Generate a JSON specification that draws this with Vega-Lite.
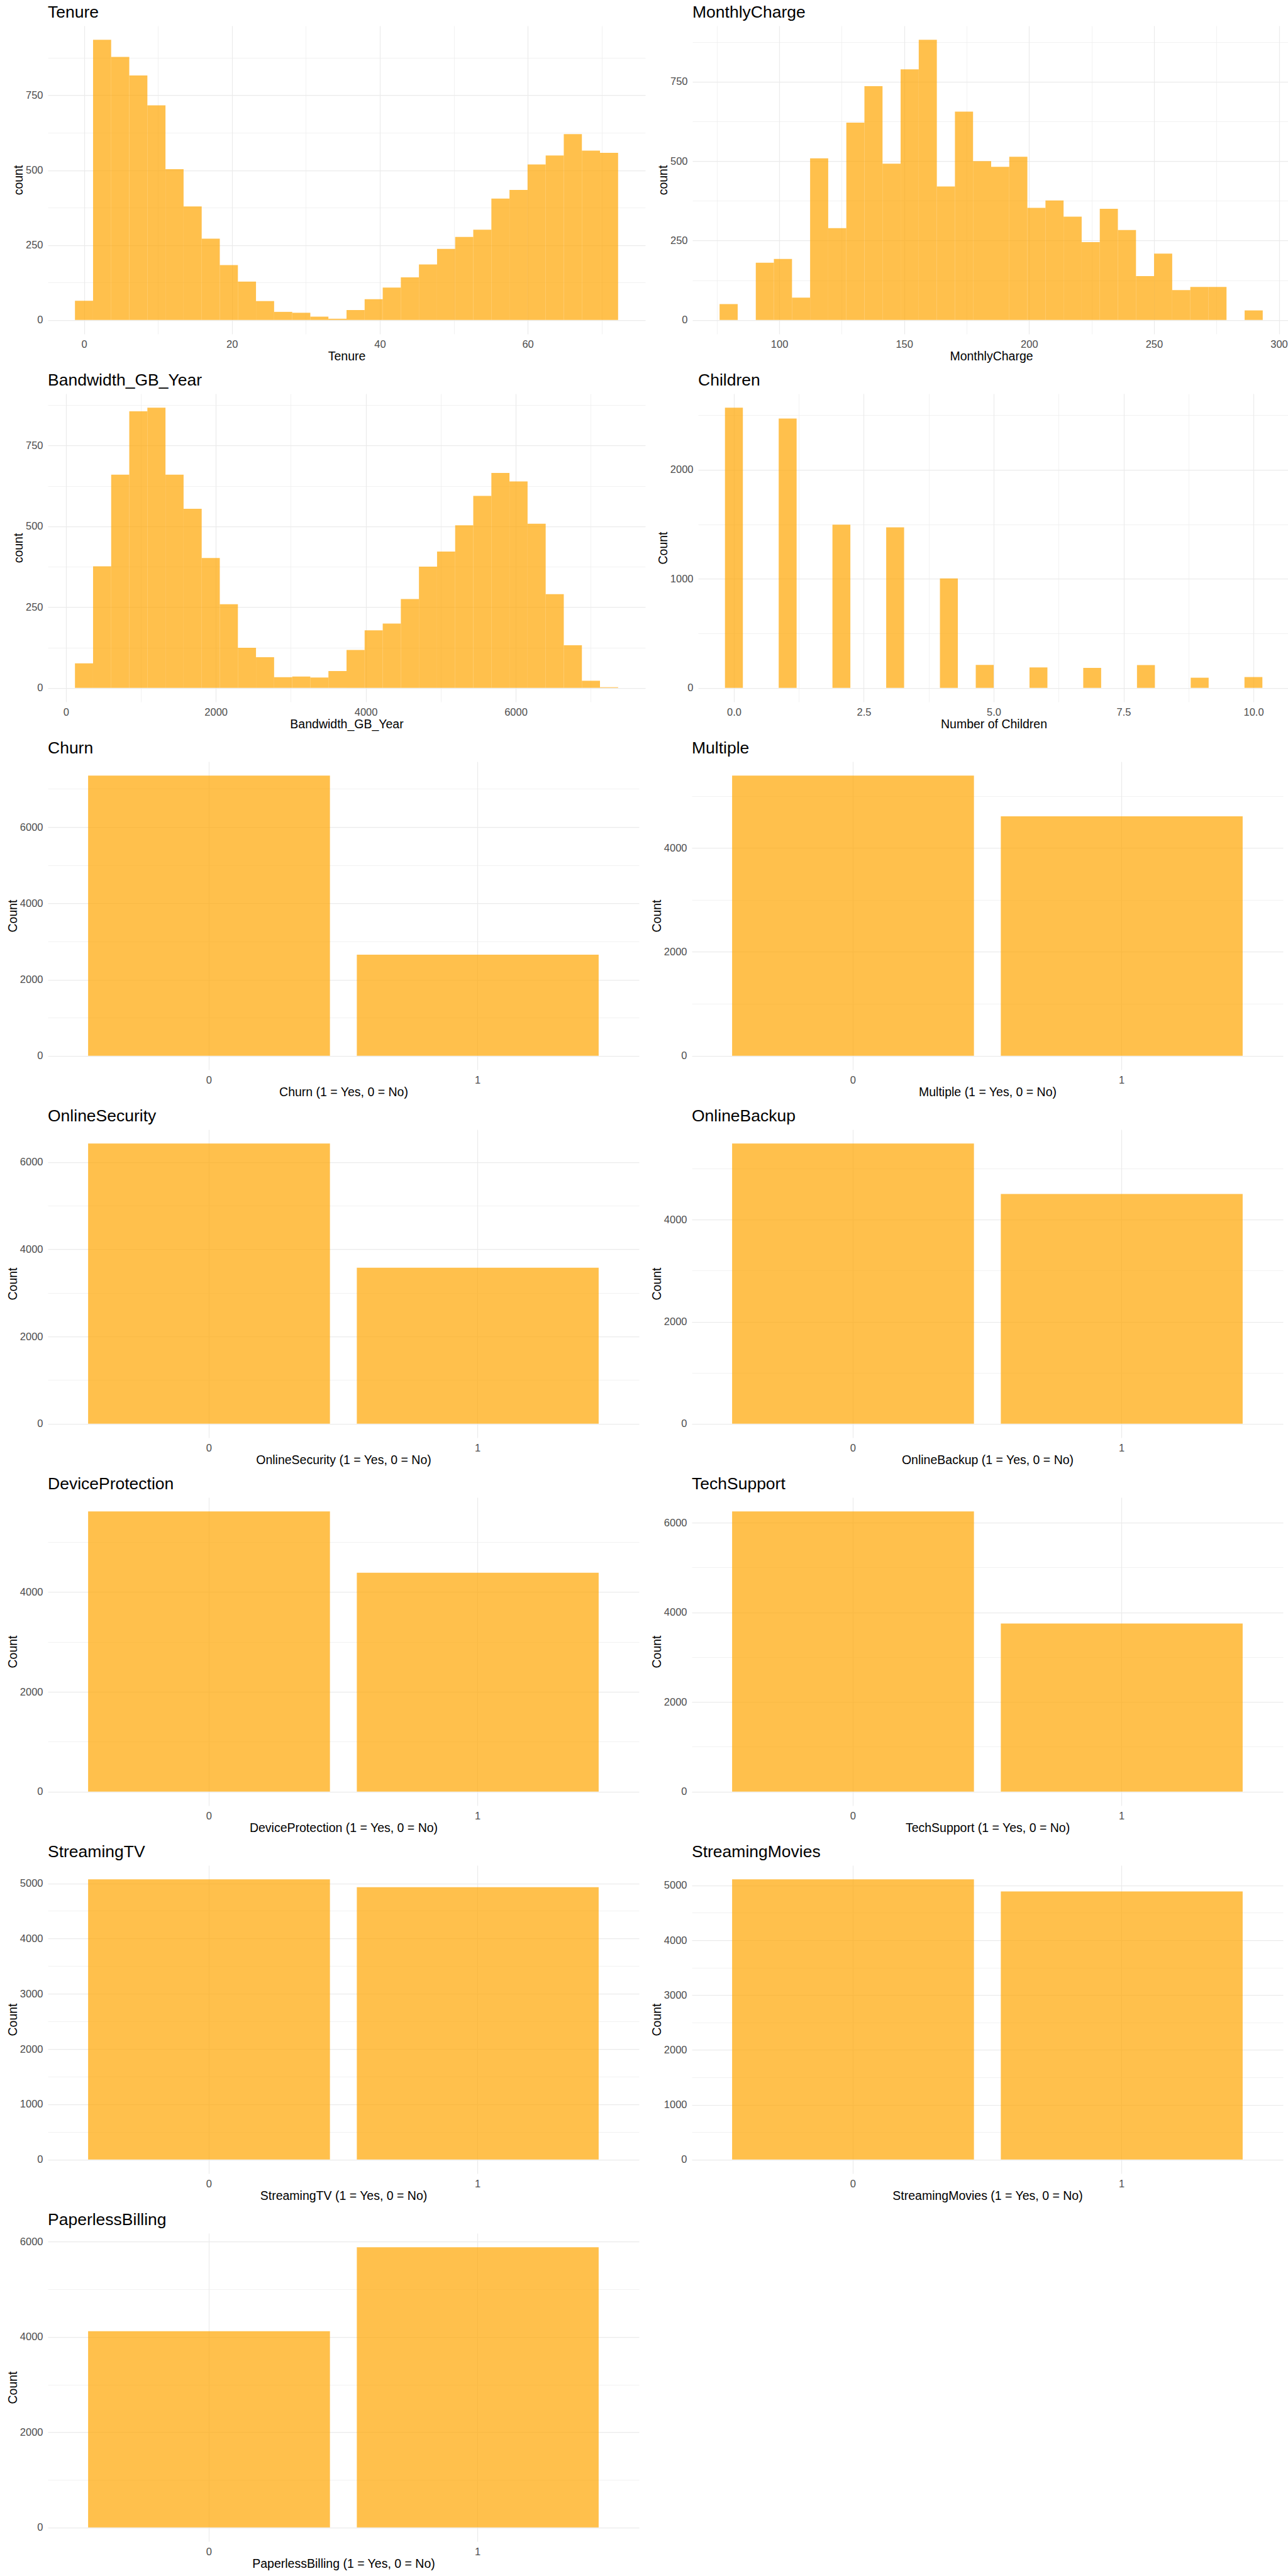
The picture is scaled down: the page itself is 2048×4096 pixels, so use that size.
{
  "$schema": "https://vega.github.io/schema/vega-lite/v6.json",
  "background": "white",
  "padding": {"left": 10, "top": 7, "right": 0, "bottom": 0},
  "spacing": 15,
  "datasets": {
    "tenure": [
      {"s":-1.224,"e":1.224,"n":64},{"s":1.224,"e":3.672,"n":935},{"s":3.672,"e":6.121,"n":878},{"s":6.121,"e":8.569,"n":816},
      {"s":8.569,"e":11.017,"n":716},{"s":11.017,"e":13.465,"n":503},{"s":13.465,"e":15.914,"n":379},{"s":15.914,"e":18.362,"n":271},
      {"s":18.362,"e":20.810,"n":183},{"s":20.810,"e":23.258,"n":128},{"s":23.258,"e":25.707,"n":63},{"s":25.707,"e":28.155,"n":27},
      {"s":28.155,"e":30.603,"n":24},{"s":30.603,"e":33.051,"n":11},{"s":33.051,"e":35.500,"n":4},{"s":35.500,"e":37.948,"n":33},
      {"s":37.948,"e":40.396,"n":69},{"s":40.396,"e":42.844,"n":108},{"s":42.844,"e":45.293,"n":142},{"s":45.293,"e":47.741,"n":185},
      {"s":47.741,"e":50.189,"n":237},{"s":50.189,"e":52.637,"n":277},{"s":52.637,"e":55.086,"n":301},{"s":55.086,"e":57.534,"n":405},
      {"s":57.534,"e":59.982,"n":434},{"s":59.982,"e":62.430,"n":519},{"s":62.430,"e":64.878,"n":549},{"s":64.878,"e":67.327,"n":620},
      {"s":67.327,"e":69.775,"n":565},{"s":69.775,"e":72.223,"n":558}
    ],
    "monthly": [
      {"s":76.100,"e":83.348,"n":50},{"s":90.595,"e":97.843,"n":180},{"s":97.843,"e":105.091,"n":192},
      {"s":105.091,"e":112.338,"n":70},{"s":112.338,"e":119.586,"n":509},{"s":119.586,"e":126.833,"n":289},{"s":126.833,"e":134.081,"n":621},
      {"s":134.081,"e":141.329,"n":736},{"s":141.329,"e":148.576,"n":492},{"s":148.576,"e":155.824,"n":789},{"s":155.824,"e":163.072,"n":882},
      {"s":163.072,"e":170.319,"n":420},{"s":170.319,"e":177.567,"n":656},{"s":177.567,"e":184.815,"n":500},{"s":184.815,"e":192.062,"n":482},
      {"s":192.062,"e":199.310,"n":514},{"s":199.310,"e":206.558,"n":353},{"s":206.558,"e":213.805,"n":376},{"s":213.805,"e":221.053,"n":325},
      {"s":221.053,"e":228.300,"n":245},{"s":228.300,"e":235.548,"n":350},{"s":235.548,"e":242.796,"n":283},{"s":242.796,"e":250.043,"n":138},
      {"s":250.043,"e":257.291,"n":209},{"s":257.291,"e":264.539,"n":94},{"s":264.539,"e":271.786,"n":104},{"s":271.786,"e":279.034,"n":104},
      {"s":286.282,"e":293.529,"n":30}
    ],
    "bandwidth": [
      {"s":120.75,"e":362.25,"n":76},{"s":362.25,"e":603.75,"n":376},{"s":603.75,"e":845.25,"n":660},{"s":845.25,"e":1086.75,"n":856},
      {"s":1086.75,"e":1328.25,"n":867},{"s":1328.25,"e":1569.75,"n":660},{"s":1569.75,"e":1811.25,"n":554},{"s":1811.25,"e":2052.75,"n":402},
      {"s":2052.75,"e":2294.25,"n":259},{"s":2294.25,"e":2535.75,"n":124},{"s":2535.75,"e":2777.25,"n":95},{"s":2777.25,"e":3018.75,"n":33},
      {"s":3018.75,"e":3260.25,"n":35},{"s":3260.25,"e":3501.75,"n":32},{"s":3501.75,"e":3743.25,"n":52},{"s":3743.25,"e":3984.75,"n":117},
      {"s":3984.75,"e":4226.25,"n":178},{"s":4226.25,"e":4467.75,"n":199},{"s":4467.75,"e":4709.25,"n":275},{"s":4709.25,"e":4950.75,"n":375},
      {"s":4950.75,"e":5192.25,"n":422},{"s":5192.25,"e":5433.75,"n":503},{"s":5433.75,"e":5675.25,"n":594},{"s":5675.25,"e":5916.75,"n":665},
      {"s":5916.75,"e":6158.25,"n":639},{"s":6158.25,"e":6399.75,"n":508},{"s":6399.75,"e":6641.25,"n":290},{"s":6641.25,"e":6882.75,"n":132},
      {"s":6882.75,"e":7124.25,"n":22},{"s":7124.25,"e":7365.75,"n":2}
    ],
    "children": [
      {"s":-0.1724,"e":0.1724,"n":2569},{"s":0.8621,"e":1.2069,"n":2470},{"s":1.8966,"e":2.2414,"n":1496},{"s":2.9310,"e":3.2759,"n":1472},
      {"s":3.9655,"e":4.3103,"n":1004},{"s":4.6552,"e":5.0000,"n":211},{"s":5.6897,"e":6.0345,"n":187},{"s":6.7241,"e":7.0690,"n":183},
      {"s":7.7586,"e":8.1034,"n":209},{"s":8.7931,"e":9.1379,"n":93},{"s":9.8276,"e":10.1724,"n":99}
    ],
    "churn": [{"v":"0","n":7350},{"v":"1","n":2650}],
    "multiple": [{"v":"0","n":5392},{"v":"1","n":4608}],
    "onlinesecurity": [{"v":"0","n":6424},{"v":"1","n":3576}],
    "onlinebackup": [{"v":"0","n":5494},{"v":"1","n":4506}],
    "deviceprotection": [{"v":"0","n":5614},{"v":"1","n":4386}],
    "techsupport": [{"v":"0","n":6250},{"v":"1","n":3750}],
    "streamingtv": [{"v":"0","n":5071},{"v":"1","n":4929}],
    "streamingmovies": [{"v":"0","n":5110},{"v":"1","n":4890}],
    "paperless": [{"v":"0","n":4118},{"v":"1","n":5882}]
  },
  "vconcat": [
    {
      "spacing": 18,
      "hconcat": [
        {
          "title": "Tenure", "width": 950, "height": 490,
          "data": {"name": "tenure"}, "mark": "rect",
          "encoding": {
            "x": {"field": "s", "type": "quantitative", "scale": {"domain": [-4.8965, 75.8955], "nice": false, "zero": false},
              "axis": {"title": "Tenure", "values": [0,10,20,30,40,50,60,70], "format": "d",
                "labelExpr": "datum.value % 20 === 0 ? datum.label : ''",
                "gridWidth": {"condition": {"test": "datum.value % 20 === 0", "value": 1.25}, "value": 0.65}}},
            "x2": {"field": "e"},
            "y": {"field": "n", "type": "quantitative", "scale": {"domain": [-46.75, 981.75], "nice": false, "zero": false},
              "axis": {"title": "count", "values": [0,125,250,375,500,625,750,875], "format": "d",
                "labelExpr": "datum.value % 250 === 0 ? datum.label : ''",
                "gridWidth": {"condition": {"test": "datum.value % 250 === 0", "value": 1.25}, "value": 0.65}}},
            "y2": {"datum": 0}
          }
        },
        {
          "title": "MonthlyCharge", "width": 950, "height": 490,
          "data": {"name": "monthly"}, "mark": "rect",
          "encoding": {
            "x": {"field": "s", "type": "quantitative", "scale": {"domain": [65.229, 304.401], "nice": false, "zero": false},
              "axis": {"title": "MonthlyCharge", "values": [75,100,125,150,175,200,225,250,275,300], "format": "d",
                "labelExpr": "datum.value % 50 === 0 ? datum.label : ''",
                "gridWidth": {"condition": {"test": "datum.value % 50 === 0", "value": 1.25}, "value": 0.65}}},
            "x2": {"field": "e"},
            "y": {"field": "n", "type": "quantitative", "scale": {"domain": [-44.1, 926.1], "nice": false, "zero": false},
              "axis": {"title": "count", "values": [0,125,250,375,500,625,750,875], "format": "d",
                "labelExpr": "datum.value % 250 === 0 ? datum.label : ''",
                "gridWidth": {"condition": {"test": "datum.value % 250 === 0", "value": 1.25}, "value": 0.65}}},
            "y2": {"datum": 0}
          }
        }
      ]
    },
    {
      "spacing": 18,
      "hconcat": [
        {
          "title": "Bandwidth_GB_Year", "width": 950, "height": 490,
          "data": {"name": "bandwidth"}, "mark": "rect",
          "encoding": {
            "x": {"field": "s", "type": "quantitative", "scale": {"domain": [-241.5, 7728], "nice": false, "zero": false},
              "axis": {"title": "Bandwidth_GB_Year", "values": [0,1000,2000,3000,4000,5000,6000,7000], "format": "d",
                "labelExpr": "datum.value % 2000 === 0 ? datum.label : ''",
                "gridWidth": {"condition": {"test": "datum.value % 2000 === 0", "value": 1.25}, "value": 0.65}}},
            "x2": {"field": "e"},
            "y": {"field": "n", "type": "quantitative", "scale": {"domain": [-43.35, 910.35], "nice": false, "zero": false},
              "axis": {"title": "count", "values": [0,125,250,375,500,625,750,875], "format": "d",
                "labelExpr": "datum.value % 250 === 0 ? datum.label : ''",
                "gridWidth": {"condition": {"test": "datum.value % 250 === 0", "value": 1.25}, "value": 0.65}}},
            "y2": {"datum": 0}
          }
        },
        {
          "title": "Children", "width": 940, "height": 490,
          "data": {"name": "children"}, "mark": "rect",
          "encoding": {
            "x": {"field": "s", "type": "quantitative", "scale": {"domain": [-0.6897, 10.6897], "nice": false, "zero": false},
              "axis": {"title": "Number of Children", "values": [0,1.25,2.5,3.75,5,6.25,7.5,8.75,10], "format": ".1f",
                "labelExpr": "datum.value % 2.5 === 0 ? datum.label : ''",
                "gridWidth": {"condition": {"test": "datum.value % 2.5 === 0", "value": 1.25}, "value": 0.65}}},
            "x2": {"field": "e"},
            "y": {"field": "n", "type": "quantitative", "scale": {"domain": [-128.45, 2697.45], "nice": false, "zero": false},
              "axis": {"title": "Count", "values": [0,500,1000,1500,2000,2500], "format": "d",
                "labelExpr": "datum.value % 1000 === 0 ? datum.label : ''",
                "gridWidth": {"condition": {"test": "datum.value % 1000 === 0", "value": 1.25}, "value": 0.65}}},
            "y2": {"datum": 0}
          }
        }
      ]
    },
    {
      "spacing": 18,
      "hconcat": [
        {
          "title": "Churn", "width": 940, "height": 490,
          "data": {"name": "churn"}, "mark": "bar",
          "encoding": {
            "x": {"field": "v", "type": "nominal", "scale": {"paddingInner": 0.1, "paddingOuter": 0.15},
              "axis": {"title": "Churn (1 = Yes, 0 = No)", "labelAngle": 0, "grid": true, "bandPosition": 0.5, "gridWidth": 1.25}},
            "y": {"field": "n", "type": "quantitative", "scale": {"domain": [-367.5, 7717.5], "nice": false, "zero": false},
              "axis": {"title": "Count", "values": [0,1000,2000,3000,4000,5000,6000,7000], "format": "d",
                "labelExpr": "datum.value % 2000 === 0 ? datum.label : ''",
                "gridWidth": {"condition": {"test": "datum.value % 2000 === 0", "value": 1.25}, "value": 0.65}}}
          }
        },
        {
          "title": "Multiple", "width": 940, "height": 490,
          "data": {"name": "multiple"}, "mark": "bar",
          "encoding": {
            "x": {"field": "v", "type": "nominal", "scale": {"paddingInner": 0.1, "paddingOuter": 0.15},
              "axis": {"title": "Multiple (1 = Yes, 0 = No)", "labelAngle": 0, "grid": true, "bandPosition": 0.5, "gridWidth": 1.25}},
            "y": {"field": "n", "type": "quantitative", "scale": {"domain": [-269.6, 5661.6], "nice": false, "zero": false},
              "axis": {"title": "Count", "values": [0,1000,2000,3000,4000,5000], "format": "d",
                "labelExpr": "datum.value % 2000 === 0 ? datum.label : ''",
                "gridWidth": {"condition": {"test": "datum.value % 2000 === 0", "value": 1.25}, "value": 0.65}}}
          }
        }
      ]
    },
    {
      "spacing": 18,
      "hconcat": [
        {
          "title": "OnlineSecurity", "width": 940, "height": 490,
          "data": {"name": "onlinesecurity"}, "mark": "bar",
          "encoding": {
            "x": {"field": "v", "type": "nominal", "scale": {"paddingInner": 0.1, "paddingOuter": 0.15},
              "axis": {"title": "OnlineSecurity (1 = Yes, 0 = No)", "labelAngle": 0, "grid": true, "bandPosition": 0.5, "gridWidth": 1.25}},
            "y": {"field": "n", "type": "quantitative", "scale": {"domain": [-321.2, 6745.2], "nice": false, "zero": false},
              "axis": {"title": "Count", "values": [0,1000,2000,3000,4000,5000,6000], "format": "d",
                "labelExpr": "datum.value % 2000 === 0 ? datum.label : ''",
                "gridWidth": {"condition": {"test": "datum.value % 2000 === 0", "value": 1.25}, "value": 0.65}}}
          }
        },
        {
          "title": "OnlineBackup", "width": 940, "height": 490,
          "data": {"name": "onlinebackup"}, "mark": "bar",
          "encoding": {
            "x": {"field": "v", "type": "nominal", "scale": {"paddingInner": 0.1, "paddingOuter": 0.15},
              "axis": {"title": "OnlineBackup (1 = Yes, 0 = No)", "labelAngle": 0, "grid": true, "bandPosition": 0.5, "gridWidth": 1.25}},
            "y": {"field": "n", "type": "quantitative", "scale": {"domain": [-274.7, 5768.7], "nice": false, "zero": false},
              "axis": {"title": "Count", "values": [0,1000,2000,3000,4000,5000], "format": "d",
                "labelExpr": "datum.value % 2000 === 0 ? datum.label : ''",
                "gridWidth": {"condition": {"test": "datum.value % 2000 === 0", "value": 1.25}, "value": 0.65}}}
          }
        }
      ]
    },
    {
      "spacing": 18,
      "hconcat": [
        {
          "title": "DeviceProtection", "width": 940, "height": 490,
          "data": {"name": "deviceprotection"}, "mark": "bar",
          "encoding": {
            "x": {"field": "v", "type": "nominal", "scale": {"paddingInner": 0.1, "paddingOuter": 0.15},
              "axis": {"title": "DeviceProtection (1 = Yes, 0 = No)", "labelAngle": 0, "grid": true, "bandPosition": 0.5, "gridWidth": 1.25}},
            "y": {"field": "n", "type": "quantitative", "scale": {"domain": [-280.7, 5894.7], "nice": false, "zero": false},
              "axis": {"title": "Count", "values": [0,1000,2000,3000,4000,5000], "format": "d",
                "labelExpr": "datum.value % 2000 === 0 ? datum.label : ''",
                "gridWidth": {"condition": {"test": "datum.value % 2000 === 0", "value": 1.25}, "value": 0.65}}}
          }
        },
        {
          "title": "TechSupport", "width": 940, "height": 490,
          "data": {"name": "techsupport"}, "mark": "bar",
          "encoding": {
            "x": {"field": "v", "type": "nominal", "scale": {"paddingInner": 0.1, "paddingOuter": 0.15},
              "axis": {"title": "TechSupport (1 = Yes, 0 = No)", "labelAngle": 0, "grid": true, "bandPosition": 0.5, "gridWidth": 1.25}},
            "y": {"field": "n", "type": "quantitative", "scale": {"domain": [-312.5, 6562.5], "nice": false, "zero": false},
              "axis": {"title": "Count", "values": [0,1000,2000,3000,4000,5000,6000], "format": "d",
                "labelExpr": "datum.value % 2000 === 0 ? datum.label : ''",
                "gridWidth": {"condition": {"test": "datum.value % 2000 === 0", "value": 1.25}, "value": 0.65}}}
          }
        }
      ]
    },
    {
      "spacing": 18,
      "hconcat": [
        {
          "title": "StreamingTV", "width": 940, "height": 490,
          "data": {"name": "streamingtv"}, "mark": "bar",
          "encoding": {
            "x": {"field": "v", "type": "nominal", "scale": {"paddingInner": 0.1, "paddingOuter": 0.15},
              "axis": {"title": "StreamingTV (1 = Yes, 0 = No)", "labelAngle": 0, "grid": true, "bandPosition": 0.5, "gridWidth": 1.25}},
            "y": {"field": "n", "type": "quantitative", "scale": {"domain": [-253.55, 5324.55], "nice": false, "zero": false},
              "axis": {"title": "Count", "values": [0,500,1000,1500,2000,2500,3000,3500,4000,4500,5000], "format": "d",
                "labelExpr": "datum.value % 1000 === 0 ? datum.label : ''",
                "gridWidth": {"condition": {"test": "datum.value % 1000 === 0", "value": 1.25}, "value": 0.65}}}
          }
        },
        {
          "title": "StreamingMovies", "width": 940, "height": 490,
          "data": {"name": "streamingmovies"}, "mark": "bar",
          "encoding": {
            "x": {"field": "v", "type": "nominal", "scale": {"paddingInner": 0.1, "paddingOuter": 0.15},
              "axis": {"title": "StreamingMovies (1 = Yes, 0 = No)", "labelAngle": 0, "grid": true, "bandPosition": 0.5, "gridWidth": 1.25}},
            "y": {"field": "n", "type": "quantitative", "scale": {"domain": [-255.5, 5365.5], "nice": false, "zero": false},
              "axis": {"title": "Count", "values": [0,500,1000,1500,2000,2500,3000,3500,4000,4500,5000], "format": "d",
                "labelExpr": "datum.value % 1000 === 0 ? datum.label : ''",
                "gridWidth": {"condition": {"test": "datum.value % 1000 === 0", "value": 1.25}, "value": 0.65}}}
          }
        }
      ]
    },
    {
      "spacing": 18,
      "hconcat": [
        {
          "title": "PaperlessBilling", "width": 940, "height": 490,
          "data": {"name": "paperless"}, "mark": "bar",
          "encoding": {
            "x": {"field": "v", "type": "nominal", "scale": {"paddingInner": 0.1, "paddingOuter": 0.15},
              "axis": {"title": "PaperlessBilling (1 = Yes, 0 = No)", "labelAngle": 0, "grid": true, "bandPosition": 0.5, "gridWidth": 1.25}},
            "y": {"field": "n", "type": "quantitative", "scale": {"domain": [-294.1, 6176.1], "nice": false, "zero": false},
              "axis": {"title": "Count", "values": [0,1000,2000,3000,4000,5000,6000], "format": "d",
                "labelExpr": "datum.value % 2000 === 0 ? datum.label : ''",
                "gridWidth": {"condition": {"test": "datum.value % 2000 === 0", "value": 1.25}, "value": 0.65}}}
          }
        }
      ]
    }
  ],
  "config": {
    "font": "Liberation Sans",
    "view": {"stroke": null},
    "bar": {"fill": "#FFA500", "fillOpacity": 0.7, "strokeWidth": 0},
    "rect": {"fill": "#FFA500", "fillOpacity": 0.7, "strokeWidth": 0},
    "axis": {
      "domain": false, "ticks": false, "tickSize": 0,
      "labelFont": "Liberation Sans", "labelFontSize": 16.5, "labelColor": "#4D4D4D", "labelPadding": 8,
      "labelOverlap": false, "labelFlush": false,
      "titleFont": "Liberation Sans", "titleFontSize": 19.5, "titleFontWeight": "normal", "titleColor": "#000000",
      "gridColor": "#EBEBEB"
    },
    "axisX": {"titlePadding": 2.3},
    "axisY": {"titlePadding": 1},
    "title": {"font": "Liberation Sans", "fontSize": 26.5, "fontWeight": "normal", "color": "#000000", "anchor": "start", "frame": "group", "offset": 7.5}
  }
}
